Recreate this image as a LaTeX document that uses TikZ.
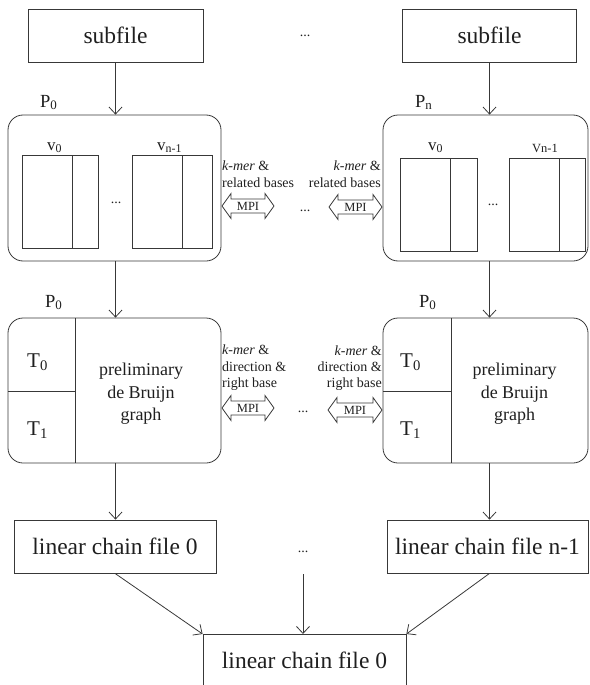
\documentclass[tikz,border=0pt]{standalone}
\usepackage{fontspec}
\setmainfont{Liberation Serif}
\usetikzlibrary{arrows.meta}
\newcommand\mpiarr[4]{% name, xl, xr, yc
  \draw[ln] (#2,#4) -- (#2+9,#4-12.5) -- (#2+9,#4-7) -- (#3-9,#4-7) -- (#3-9,#4-12.5)
    -- (#3,#4) -- (#3-9,#4+12.5) -- (#3-9,#4+7) -- (#2+9,#4+7) -- (#2+9,#4+12.5) -- cycle;
  \node[mpitxt] (#1) at ({(#2+#3)/2},#4) {MPI};}
\tikzset{
  ln/.style={draw=black!78, line width=0.8pt},
  arr/.style={ln, -{Straight Barb[length=7pt,width=13pt]}},
  filebox/.style={ln, rectangle, inner sep=0pt, text=black!88, font=\fontsize{23.5}{28}\selectfont},
  procbox/.style={ln, rectangle, rounded corners=15pt, inner sep=0pt},
  lbl/.style={inner sep=0pt, text=black!88, font=\fontsize{14}{17}\selectfont},
  mpitxt/.style={inner sep=0pt, text=black!88, font=\fontsize{12.5}{14}\selectfont},
  plbl/.style={inner sep=0pt, text=black!88, font=\fontsize{18.5}{20}\selectfont},
  tlbl/.style={inner sep=0pt, text=black!88, font=\fontsize{21}{22}\selectfont},
  vlbl/.style={inner sep=0pt, text=black!88, font=\fontsize{17}{18}\selectfont},
  dots/.style={inner sep=0pt, text=black!88, font=\fontsize{14}{14}\selectfont},
  graphtxt/.style={inner sep=0pt, text=black!88, align=center, font=\fontsize{18}{22.5}\selectfont},
}
\begin{document}
\begin{tikzpicture}[x=1pt,y=-1pt]
\useasboundingbox (0,0) rectangle (589,685);
\clip (0,0) rectangle (589,685);
% top file boxes
\node[filebox, minimum width=175, minimum height=53] (sub1) at (115.5,35.5) {subfile};
\node[filebox, minimum width=174, minimum height=53] (sub2) at (489.5,35.5) {subfile};
\node[dots, anchor=base] (d0) at (305,37) {...};
% processor boxes row 1
\node[procbox, minimum width=213, minimum height=146] (pa) at (114.5,188) {};
\node[procbox, minimum width=205, minimum height=146] (pb) at (485.5,188) {};
\node[plbl, anchor=base west] (pla) at (40,107) {P\textsubscript{0}};
\node[plbl, anchor=base west] (plb) at (415,107) {P\textsubscript{n}};
% inner arrays left
\draw[ln] (22,155) rectangle (98,248); \draw[ln] (72,155) -- (72,248);
\draw[ln] (132,155) rectangle (212,248); \draw[ln] (182,155) -- (182,248);
\node[vlbl, anchor=base west] (va0) at (47,150) {v\textsubscript{0}};
\node[vlbl, anchor=base west] (va1) at (157,150) {v\textsubscript{n-1}};
\node[dots, anchor=base] (da) at (116,203) {...};
% inner arrays right
\draw[ln] (400,158) rectangle (477,251); \draw[ln] (450,158) -- (450,251);
\draw[ln] (509,158) rectangle (585,251); \draw[ln] (559,158) -- (559,251);
\node[vlbl, anchor=base west] (vb0) at (428,150) {v\textsubscript{0}};
\node[inner sep=0pt, text=black!88, font=\fontsize{12.5}{14}\selectfont, anchor=base west] (vb1) at (532,152) {Vn-1};
\node[dots, anchor=base] (db) at (493,205) {...};
% MPI row 1
\mpiarr{m1}{222}{274}{206}
\mpiarr{m2}{329}{382}{207}
\node[lbl, anchor=base west] (k1) at (222,170) {\textit{k-mer} \&};
\node[lbl, anchor=base west] (r1) at (222,187) {related bases};
\node[lbl, anchor=base east] (k2) at (381,170) {\textit{k-mer} \&};
\node[lbl, anchor=base east] (r2) at (381,187) {related bases};
\node[dots, anchor=base] (dm1) at (305,211) {...};
% processor boxes row 2
\node[procbox, minimum width=213, minimum height=145] (qa) at (114.5,390.5) {};
\node[procbox, minimum width=205, minimum height=145] (qb) at (485.5,390.5) {};
\draw[ln] (75,318) -- (75,463); \draw[ln] (8,391) -- (75,391);
\draw[ln] (451,318) -- (451,463); \draw[ln] (383,391) -- (451,391);
\node[plbl, anchor=base west] (qla) at (45,307) {P\textsubscript{0}};
\node[plbl, anchor=base west] (qlb) at (419,307) {P\textsubscript{0}};
\node[tlbl, anchor=base west] (ta0) at (27,367) {T\textsubscript{0}};
\node[tlbl, anchor=base west] (ta1) at (27,435) {T\textsubscript{1}};
\node[tlbl, anchor=base west] (tb0) at (400,367) {T\textsubscript{0}};
\node[tlbl, anchor=base west] (tb1) at (400,435) {T\textsubscript{1}};
\node[graphtxt] (ga) at (141,394) {preliminary\\de Bruijn\\graph};
\node[graphtxt] (gb) at (514.5,394) {preliminary\\de Bruijn\\graph};
% MPI row 2
\mpiarr{m3}{222}{274}{408}
\mpiarr{m4}{328}{382}{410}
\node[lbl, anchor=base west] (k3) at (222,354) {\textit{k-mer} \&};
\node[lbl, anchor=base west] (e3) at (222,371) {direction \&};
\node[lbl, anchor=base west] (s3) at (222,387) {right base};
\node[lbl, anchor=base east] (k4) at (382,355) {\textit{k-mer} \&};
\node[lbl, anchor=base east] (e4) at (382,371) {direction \&};
\node[lbl, anchor=base east] (s4) at (382,387) {right base};
\node[dots, anchor=base] (dm2) at (303,412) {...};
% linear chain files
\node[filebox, minimum width=202, minimum height=53] (lc1) at (115,546.5) {linear chain file 0};
\node[filebox, minimum width=201, minimum height=53] (lc2) at (487.5,546.5) {linear chain file n-1};
\node[dots, anchor=base] (dl) at (303,552) {...};
\node[filebox, minimum width=203, minimum height=76, anchor=north] (fin) at (304.5,634) {};
\node[inner sep=0pt, text=black!88, font=\fontsize{23.5}{28}\selectfont, anchor=base] (fintxt) at (304.5,668) {linear chain file 0};
\coordinate (midtop) at (303,574);
% connectors
\draw[arr] (sub1.south) -- (sub1.south |- pa.north);
\draw[arr] (sub2.south) -- (sub2.south |- pb.north);
\draw[arr] (sub1.south |- pa.south) -- (sub1.south |- qa.north);
\draw[arr] (sub2.south |- pb.south) -- (sub2.south |- qb.north);
\draw[arr] (sub1.south |- qa.south) -- (sub1.south |- lc1.north);
\draw[arr] (sub2.south |- qb.south) -- (sub2.south |- lc2.north);
\draw[arr] (lc1.south) -- (fin.north west);
\draw[arr] (sub2.south |- lc2.south) -- (fin.north east);
\draw[arr] (midtop) -- (midtop |- fin.north);
\end{tikzpicture}
\end{document}
